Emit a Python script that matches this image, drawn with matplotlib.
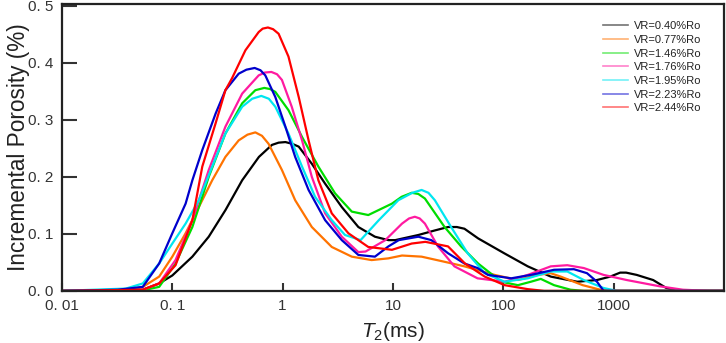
import matplotlib
matplotlib.use("Agg")
import matplotlib.pyplot as plt

plt.rcParams['font.family'] = ['Liberation Sans', 'DejaVu Sans']
plt.rcParams['mathtext.fontset'] = 'custom'
plt.rcParams['mathtext.rm'] = 'Liberation Sans'
plt.rcParams['mathtext.it'] = 'Liberation Sans:italic'

# T2 (ms) / incremental porosity (%), one pair per sample
t2_040 = [0.01, 0.054, 0.076, 0.1, 0.152, 0.214, 0.304, 0.43, 0.61, 0.8, 0.92, 1.06, 1.22, 1.4, 1.84, 2.43, 3.44,
          4.86, 6.87, 9.1, 10.5, 17.0, 24.0, 31.6, 38.0, 44.5, 59.3, 102, 167, 270, 469, 708, 933, 1148, 1300, 1622,
          2286, 3013, 3707, 10000]
por_040 = [0.0, 0.002, 0.013, 0.027, 0.060, 0.095, 0.142, 0.194, 0.235, 0.256, 0.260, 0.261, 0.258, 0.253, 0.223,
           0.188, 0.147, 0.112, 0.095, 0.089, 0.089, 0.098, 0.106, 0.112, 0.112, 0.109, 0.092, 0.066, 0.043, 0.025,
           0.016, 0.019, 0.025, 0.032, 0.032, 0.028, 0.019, 0.005, 0.0, 0.0]

t2_077 = [0.01, 0.038, 0.054, 0.076, 0.1, 0.132, 0.174, 0.23, 0.303, 0.40, 0.48, 0.566, 0.65, 0.746, 0.986, 1.30,
          1.84, 2.79, 4.24, 6.41, 9.08, 12.1, 18.2, 29.4, 44.5, 83.6, 136, 205, 269, 332, 525, 759, 1000, 10000]
por_077 = [0.0, 0.001, 0.007, 0.025, 0.060, 0.101, 0.147, 0.194, 0.235, 0.264, 0.274, 0.278, 0.272, 0.258, 0.212,
           0.159, 0.112, 0.077, 0.060, 0.054, 0.057, 0.062, 0.060, 0.051, 0.043, 0.028, 0.019, 0.028, 0.031, 0.025,
           0.010, 0.002, 0.0, 0.0]

t2_146 = [0.01, 0.054, 0.076, 0.107, 0.152, 0.214, 0.303, 0.43, 0.566, 0.682, 0.77, 0.859, 1.13, 1.50, 2.11, 2.99,
          4.24, 5.98, 9.8, 12.0, 14.8, 17.0, 19.5, 29.4, 41.5, 59.2, 95.9, 136, 178, 219, 289, 408, 538, 10000]
por_146 = [0.0, 0.001, 0.007, 0.048, 0.112, 0.200, 0.276, 0.329, 0.352, 0.356, 0.354, 0.349, 0.317, 0.270, 0.218,
           0.171, 0.139, 0.133, 0.153, 0.165, 0.172, 0.170, 0.162, 0.112, 0.078, 0.048, 0.016, 0.010, 0.016, 0.021,
           0.010, 0.002, 0.0, 0.0]

t2_176 = [0.01, 0.054, 0.076, 0.107, 0.152, 0.214, 0.303, 0.43, 0.607, 0.69, 0.791, 0.89, 0.986, 1.21, 1.50, 1.84,
          2.43, 3.44, 4.86, 5.65, 8.53, 12.1, 14.0, 15.8, 17.5, 19.5, 25.6, 36.1, 58.5, 103, 167, 270, 381, 538, 813,
          1318, 2624, 4256, 7380, 10000]
por_176 = [0.0, 0.002, 0.013, 0.054, 0.124, 0.212, 0.288, 0.346, 0.378, 0.383, 0.384, 0.380, 0.370, 0.323, 0.264,
           0.200, 0.136, 0.095, 0.068, 0.069, 0.089, 0.118, 0.127, 0.130, 0.127, 0.118, 0.078, 0.043, 0.022, 0.016,
           0.028, 0.043, 0.045, 0.040, 0.028, 0.019, 0.008, 0.002, 0.0, 0.0]

t2_195 = [0.01, 0.038, 0.054, 0.076, 0.1, 0.132, 0.174, 0.23, 0.303, 0.43, 0.53, 0.641, 0.75, 0.859, 1.13, 1.50,
          1.97, 2.79, 3.68, 5.09, 7.45, 11.2, 15.0, 18.2, 21.0, 24.0, 33.7, 47.6, 67.9, 103, 167, 270, 381, 538, 813,
          1072, 10000]
por_195 = [0.0, 0.004, 0.013, 0.048, 0.083, 0.118, 0.159, 0.218, 0.276, 0.323, 0.337, 0.342, 0.337, 0.323, 0.276,
           0.218, 0.165, 0.124, 0.098, 0.089, 0.124, 0.159, 0.172, 0.177, 0.172, 0.159, 0.112, 0.066, 0.031, 0.016,
           0.022, 0.034, 0.034, 0.019, 0.005, 0.0, 0.0]

t2_223 = [0.01, 0.032, 0.054, 0.076, 0.1, 0.132, 0.152, 0.187, 0.247, 0.303, 0.40, 0.47, 0.558, 0.63, 0.697, 0.859,
          1.06, 1.30, 1.72, 2.43, 3.44, 4.86, 6.87, 9.1, 11.3, 17.0, 22.3, 31.6, 44.5, 58.5, 72.8, 118, 178, 289, 437,
          575, 708, 813, 10000]
por_223 = [0.0, 0.002, 0.007, 0.048, 0.101, 0.153, 0.194, 0.247, 0.311, 0.352, 0.381, 0.388, 0.391, 0.387, 0.378,
           0.340, 0.288, 0.235, 0.177, 0.124, 0.089, 0.063, 0.060, 0.078, 0.089, 0.095, 0.089, 0.066, 0.048, 0.040,
           0.028, 0.022, 0.028, 0.037, 0.038, 0.031, 0.016, 0.0, 0.0]

t2_244 = [0.01, 0.054, 0.076, 0.107, 0.152, 0.187, 0.247, 0.303, 0.348, 0.46, 0.607, 0.66, 0.736, 0.82, 0.92, 1.13,
          1.40, 1.72, 2.11, 2.79, 3.95, 5.98, 9.8, 14.8, 19.7, 31.6, 45.0, 68.0, 103, 167, 235, 10000]
por_244 = [0.0, 0.002, 0.013, 0.045, 0.124, 0.218, 0.294, 0.352, 0.373, 0.422, 0.454, 0.460, 0.462, 0.459, 0.451,
           0.411, 0.340, 0.264, 0.194, 0.136, 0.101, 0.077, 0.072, 0.083, 0.086, 0.078, 0.048, 0.025, 0.010, 0.003,
           0.0, 0.0]

labels = ['VR=0.40%Ro', 'VR=0.77%Ro', 'VR=1.46%Ro', 'VR=1.76%Ro', 'VR=1.95%Ro', 'VR=2.23%Ro', 'VR=2.44%Ro']
colors = ['#000000', '#ff7300', '#00dd00', '#ff1aa0', '#00e6f0', '#0000cc', '#ff0000']
x_ticks = [0.01, 0.1, 1, 10, 100, 1000]
x_ticklabels = ['0. 01', '0. 1', '1', '10', '100', '1000']
y_ticks = [0.0, 0.1, 0.2, 0.3, 0.4, 0.5]
y_ticklabels = ['0. 0', '0. 1', '0. 2', '0. 3', '0. 4', '0. 5']

series = [(t2_040, por_040), (t2_077, por_077), (t2_146, por_146), (t2_176, por_176),
          (t2_195, por_195), (t2_223, por_223), (t2_244, por_244)]

fig = plt.figure(figsize=(7.26, 3.43), dpi=100)
ax = fig.add_axes([0.0854, 0.152, 0.9116, 0.836])

for (t2, por), lab, col in zip(series, labels, colors):
    ax.plot(t2, por, color=col, linewidth=1.6, label=lab, solid_joinstyle='round')

ax.set_xscale('log')
ax.set_xlim(0.01, 10000)
ax.set_ylim(0, 0.503)
ax.set_xticks(x_ticks)
ax.set_xticklabels(x_ticklabels)
ax.minorticks_off()
ax.set_yticks(y_ticks)
ax.set_yticklabels(y_ticklabels)
ax.tick_params(direction='in', width=1.5, labelsize=11, colors='#333333', labelcolor='#333333')
ax.tick_params(axis='x', length=6, pad=6)
ax.tick_params(axis='y', length=11, pad=6)
for s in ax.spines.values():
    s.set_linewidth(1.6)
    s.set_color('#222222')

ax.set_ylabel('Incremental Porosity (%)', fontsize=16.3, color='#222222', labelpad=-1)
ax.set_xlabel(r'$T_2$(ms)', fontsize=15, color='#222222', labelpad=5)

leg = ax.legend(loc='upper right', bbox_to_anchor=(0.967, 0.94), frameon=False, fontsize=8,
                handlelength=2.3, labelspacing=0.33, borderaxespad=0, borderpad=0, handletextpad=0.55)
for line in leg.get_lines():
    line.set_linewidth(1.2)
    line.set_alpha(0.55)
for t in leg.get_texts():
    t.set_color('#222222')

fig.savefig('out.png', dpi=100)
